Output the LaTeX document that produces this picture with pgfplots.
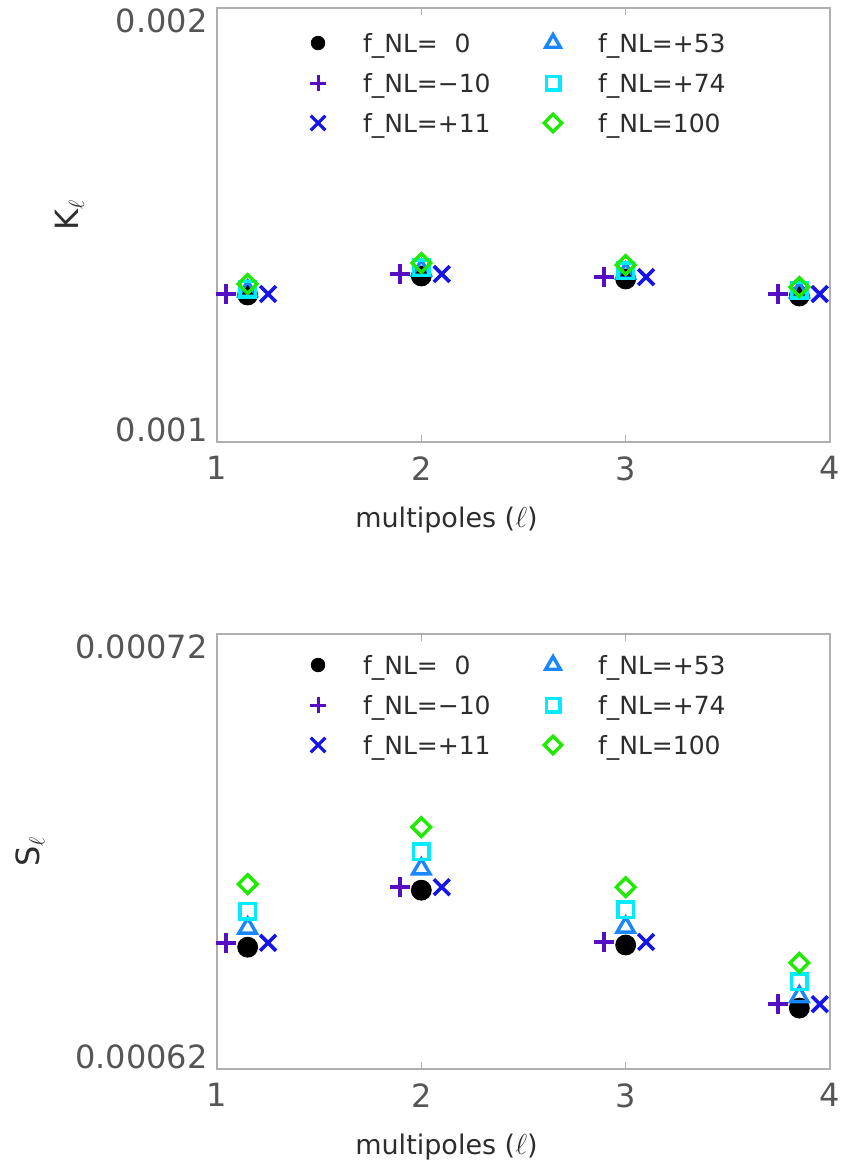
\documentclass[border=0pt]{standalone}
\usepackage{fontspec}
\setmainfont{DejaVu Sans}
\usepackage{pgfplots}
\pgfplotsset{compat=1.18}

\definecolor{cplus}{RGB}{85,15,195}
\definecolor{ccross}{RGB}{20,20,235}
\definecolor{ctri}{RGB}{25,135,255}
\definecolor{csq}{RGB}{0,235,255}
\definecolor{cdia}{RGB}{30,235,0}
\definecolor{framegray}{RGB}{175,175,175}
\definecolor{ticktext}{RGB}{85,85,85}
\definecolor{labtext}{RGB}{45,45,45}

\pgfplotsset{
  mk0/.style={only marks, mark=*, mark size=5pt, black, mark options={draw=black, fill=black}},
  mkplus/.style={only marks, mark=+, mark size=5pt, cplus, mark options={line width=1.8pt}},
  mkx/.style={only marks, mark=x, mark size=5.6pt, ccross, mark options={line width=1.8pt}},
  mktri/.style={only marks, mark=triangle, mark size=5pt, ctri, mark options={line width=1.7pt}},
  mksq/.style={only marks, mark=square, mark size=3.9pt, csq, mark options={line width=1.7pt}},
  mkdia/.style={only marks, mark=square, mark size=3.3pt, cdia, mark options={line width=1.7pt, rotate=45}},
  panel/.style={
    scale only axis, width=306.5pt, xmin=1, xmax=4, clip=false,
    axis line style={framegray, line width=0.7pt},
    tick style={framegray, line width=0.7pt}, major tick length=3.5pt, tick align=inside,
    xtick={1,2,3,4},
    scaled y ticks=false,
    /pgf/number format/assume math mode=true,
    xticklabel style={font=\fontsize{16}{19}\selectfont, text=ticktext, inner sep=0pt, anchor=north, yshift=-7pt},
    yticklabel style={font=\fontsize{16}{19}\selectfont, text=ticktext, inner sep=0pt, xshift=-4.5pt},
    xlabel style={font=\fontsize{13.5}{16}\selectfont, text=labtext, inner sep=0pt,
      at={(axis description cs:0.225,0)}, anchor=north west, yshift=-32.5pt},
    ylabel style={font=\fontsize{16}{19}\selectfont, text=labtext, inner sep=0pt, anchor=center},
    xlabel={multipoles ($\ell$)},
    legend columns=2,
    legend cell align=left,
    legend image code/.code={\draw[#1] plot coordinates {(0pt,0pt)}; \path[draw=none, fill=none] (-8pt,-5pt) rectangle (19pt,5pt);},
    legend style={anchor=north west, draw=none, fill=none, inner sep=0pt, outer sep=0pt,
      row sep=0pt, column sep=0pt,
      nodes={font=\fontsize{12.5}{15}\selectfont, text=labtext, inner xsep=3.5pt, inner ysep=4pt,
        text height=10.5pt, text depth=1.5pt, text width=83.5pt, align=left, anchor=west}},
  }
}

\begin{document}
\begin{tikzpicture}
\useasboundingbox (0,0) rectangle (420.5pt,586.5pt);

% K_ell panel
\begin{axis}[panel, at={(108.5pt,365.5pt)}, anchor=south west, height=217pt,
  ymin=0.001, ymax=0.002,
  ytick={0.001}, yticklabels={0.001}, yticklabel style={anchor=south east},
  extra y ticks={0.002}, extra y tick labels={0.002},
  extra y tick style={yticklabel style={anchor=north east}},
  ylabel={K$_\ell$}, ylabel style={at={(axis description cs:-0.24,0.523)}},
  legend style={at={(axis description cs:0.1387,0.9654)}}]
\addplot[mk0, forget plot] coordinates {(1.15,0.0013387) (2,0.0013825) (3,0.0013756) (3.85,0.0013364)};
\addplot[mkplus, forget plot] coordinates {(1.045,0.001341) (1.895,0.001387) (2.895,0.00138) (3.745,0.001341)};
\addplot[mkx, forget plot] coordinates {(1.25,0.001341) (2.1,0.001387) (3.1,0.00138) (3.95,0.001341)};
\addplot[mktri, forget plot] coordinates {(1.15,0.001348) (2,0.001396) (3,0.001389) (3.85,0.0013456)};
\addplot[mksq, forget plot] coordinates {(1.15,0.0013525) (2,0.001401) (3,0.001394) (3.85,0.0013502)};
\addplot[mkdia, forget plot] coordinates {(1.15,0.001364) (2,0.0014124) (3,0.0014078) (3.85,0.0013571)};
\addlegendimage{mk0, mark size=3.4pt}\addlegendentry{f\_NL=\ \ 0}
\addlegendimage{mktri, mark size=4.2pt}\addlegendentry{f\_NL=+53}
\addlegendimage{mkplus, mark size=3.8pt, mark options={line width=1.5pt}}\addlegendentry{f\_NL=−10}
\addlegendimage{mksq, mark size=3.4pt}\addlegendentry{f\_NL=+74}
\addlegendimage{mkx, mark size=5.2pt, mark options={line width=1.6pt}}\addlegendentry{f\_NL=+11}
\addlegendimage{mkdia, mark size=3.1pt}\addlegendentry{f\_NL=100}
\end{axis}

% S_ell panel
\begin{axis}[panel, at={(108.5pt,52pt)}, anchor=south west, height=217.5pt,
  ymin=0.00062, ymax=0.00072,
  ytick={0.00062}, yticklabels={0.00062}, yticklabel style={anchor=south east},
  extra y ticks={0.00072}, extra y tick labels={0.00072},
  extra y tick style={yticklabel style={anchor=north east}},
  ylabel={S$_\ell$}, ylabel style={at={(axis description cs:-0.305,0.5)}},
  legend style={at={(axis description cs:0.1387,0.9747)}}]
\addplot[mk0, forget plot] coordinates {(1.15,0.000648) (2,0.0006611) (3,0.0006485) (3.85,0.000634)};
\addplot[mkplus, forget plot] coordinates {(1.045,0.000649) (1.895,0.0006618) (2.895,0.0006492) (3.745,0.0006349)};
\addplot[mkx, forget plot] coordinates {(1.25,0.000649) (2.1,0.0006618) (3.1,0.0006492) (3.95,0.0006349)};
\addplot[mktri, forget plot] coordinates {(1.15,0.0006524) (2,0.000666) (3,0.0006526) (3.85,0.0006366)};
\addplot[mksq, forget plot] coordinates {(1.15,0.0006563) (2,0.0006699) (3,0.0006566) (3.85,0.00064)};
\addplot[mkdia, forget plot] coordinates {(1.15,0.0006625) (2,0.0006756) (3,0.0006618) (3.85,0.0006444)};
\addlegendimage{mk0, mark size=3.4pt}\addlegendentry{f\_NL=\ \ 0}
\addlegendimage{mktri, mark size=4.2pt}\addlegendentry{f\_NL=+53}
\addlegendimage{mkplus, mark size=3.8pt, mark options={line width=1.5pt}}\addlegendentry{f\_NL=−10}
\addlegendimage{mksq, mark size=3.4pt}\addlegendentry{f\_NL=+74}
\addlegendimage{mkx, mark size=5.2pt, mark options={line width=1.6pt}}\addlegendentry{f\_NL=+11}
\addlegendimage{mkdia, mark size=3.1pt}\addlegendentry{f\_NL=100}
\end{axis}
\end{tikzpicture}
\end{document}
